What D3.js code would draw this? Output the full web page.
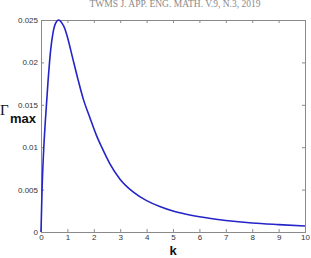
<!DOCTYPE html>
<html><head><meta charset="utf-8">
<script src="https://cdn.jsdelivr.net/npm/d3@7"></script>
<style>body{margin:0;background:#fff}svg{display:block}</style>
</head><body>
<script>
const kValues = [0, 0.04, 0.1, 0.163, 0.265, 0.367, 0.45, 0.55, 0.67, 0.8, 0.9, 1.0, 1.2, 1.4, 1.6, 1.85, 2.1, 2.3, 2.6, 3, 3.5, 4, 4.5, 5, 5.5, 6, 7, 8, 9, 10];
const gammaValues = [0, 0.0050, 0.0096, 0.0130, 0.0177, 0.0215, 0.0234, 0.0246, 0.0250, 0.0246, 0.0240, 0.0230, 0.0205, 0.0180, 0.0157, 0.0135, 0.0114, 0.0100, 0.0081, 0.0062, 0.0047, 0.0037, 0.0030, 0.00247, 0.00209, 0.00179, 0.00136, 0.00106, 0.00087, 0.00071];
const xTicks = [0,1,2,3,4,5,6,7,8,9,10];
const yTicks = [0, 0.005, 0.01, 0.015, 0.02, 0.025];
const yTickLabels = ["0","0.005","0.01","0.015","0.02","0.025"];
const header = "TWMS J. APP. ENG. MATH. V.9, N.3, 2019";

const W = 311, H = 258;
const m = {l: 41, r: 6, t: 20, b: 26};
const svg = d3.select("body").append("svg").attr("width", W).attr("height", H);
const x = d3.scaleLinear().domain([0, 10]).range([m.l, W - m.r]);
const y = d3.scaleLinear().domain([0, 0.025]).range([H - m.b, m.t]);

svg.append("text").attr("x", 175).attr("y", 7).attr("text-anchor", "middle")
  .attr("font-family", "Liberation Serif, serif").attr("font-size", 9.5).attr("fill", "#8a8a8a")
  .text(header);

const axisColor = "#8a8a8a";
const fontF = "Liberation Sans, Arial, sans-serif";

const gx = svg.append("g").attr("transform", `translate(0,${H - m.b})`)
  .call(d3.axisBottom(x).tickValues(xTicks).tickSize(-3).tickPadding(2).tickFormat(d3.format("d")));
const gxt = svg.append("g").attr("transform", `translate(0,${m.t})`)
  .call(d3.axisTop(x).tickValues(xTicks).tickSize(-3).tickFormat(""));
const gy = svg.append("g").attr("transform", `translate(${m.l},0)`)
  .call(d3.axisLeft(y).tickValues(yTicks).tickSize(-3).tickPadding(3).tickFormat((d,i) => yTickLabels[i]));
const gyr = svg.append("g").attr("transform", `translate(${W - m.r},0)`)
  .call(d3.axisRight(y).tickValues(yTicks).tickSize(-3).tickFormat(""));

[gx, gxt, gy, gyr].forEach(g => {
  g.selectAll("path.domain").attr("stroke", axisColor);
  g.selectAll(".tick line").attr("stroke", axisColor);
  g.selectAll(".tick text").attr("font-family", fontF).attr("font-size", 8).attr("fill", "#333");
});

const line = d3.line().x((d,i) => x(kValues[i])).y(d => y(d)).curve(d3.curveMonotoneX);
svg.append("path").datum(gammaValues).attr("d", line)
  .attr("fill", "none").attr("stroke", "#2424c8").attr("stroke-width", 1.6);

svg.append("text").attr("x", 0).attr("y", 115).attr("font-family", "Liberation Serif, serif")
  .attr("font-size", 15).attr("fill", "#111").text("Γ");
svg.append("text").attr("x", 10).attr("y", 123).attr("font-family", fontF).attr("font-weight", "bold")
  .attr("font-size", 13).attr("fill", "#111").text("max");
svg.append("text").attr("x", x(5)).attr("y", 254.5).attr("text-anchor", "middle").attr("font-family", fontF)
  .attr("font-weight", "bold").attr("font-size", 13).attr("fill", "#111").text("k");
</script>
</body></html>
